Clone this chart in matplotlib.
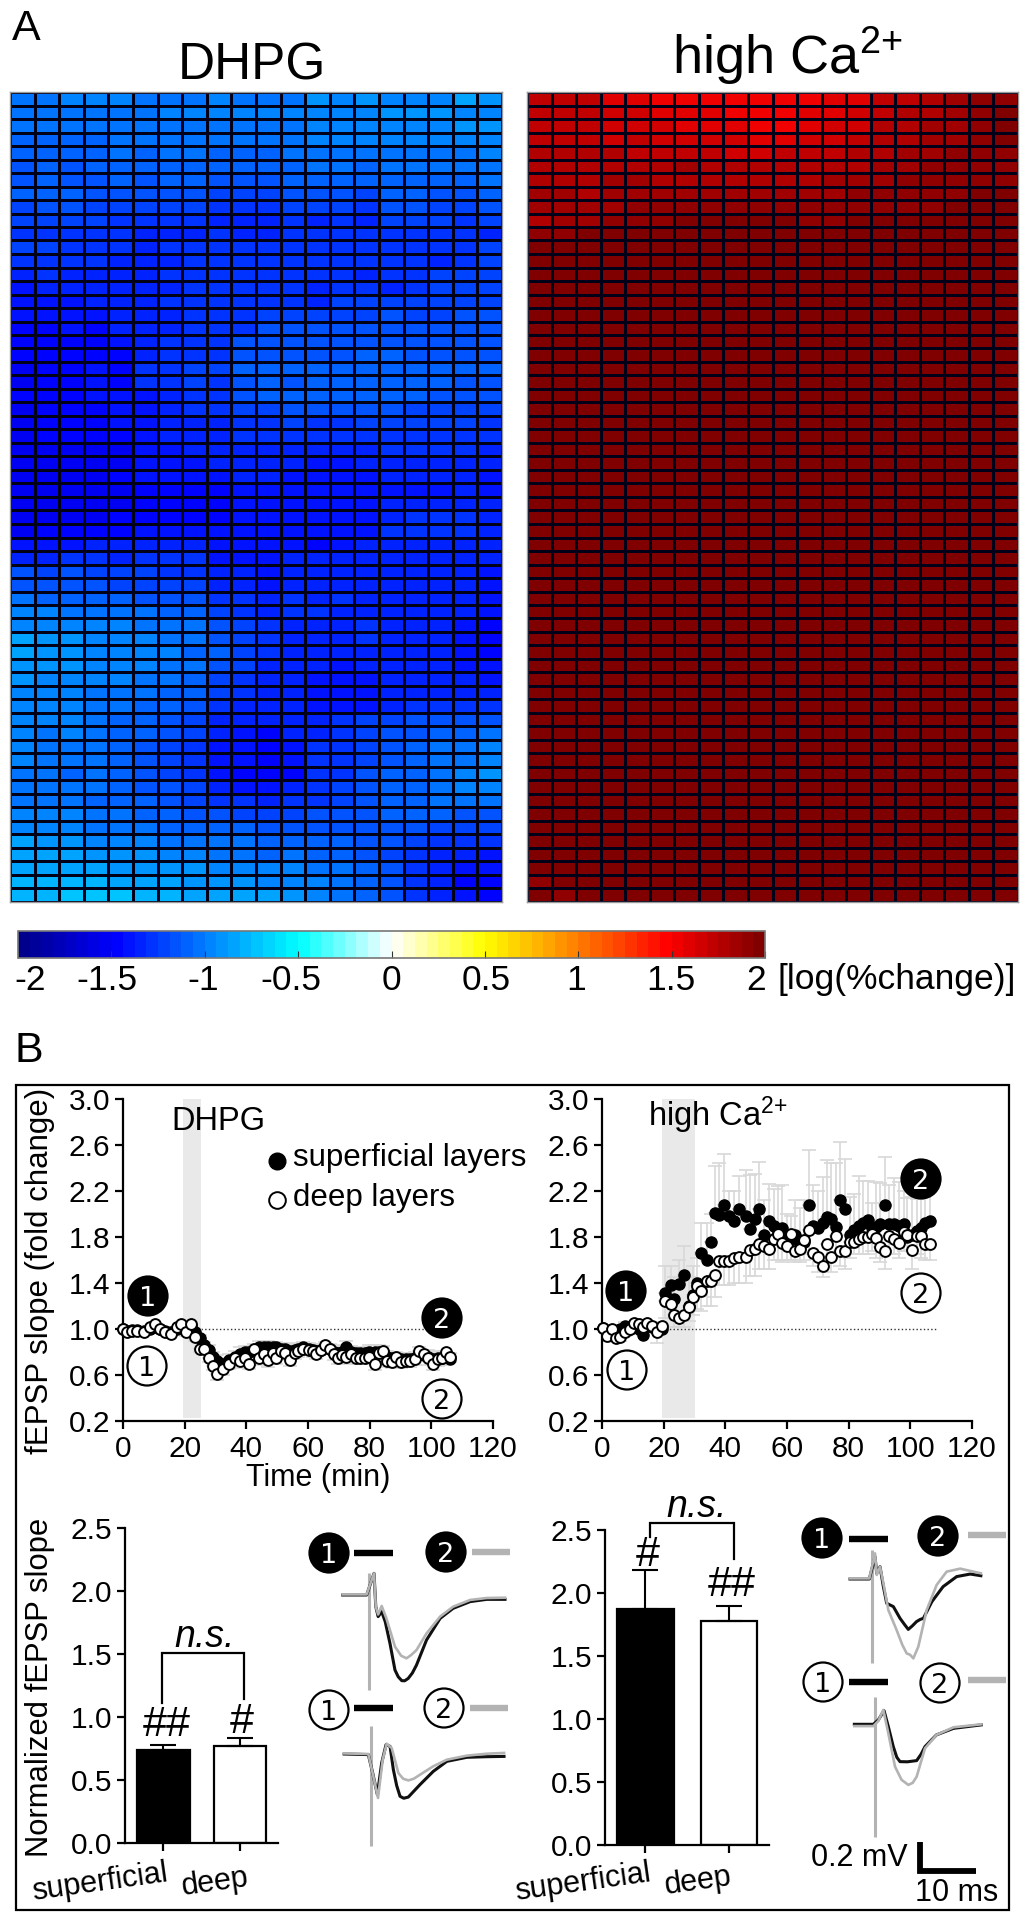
import numpy as np
import matplotlib
matplotlib.use("Agg")
import matplotlib.pyplot as plt
from matplotlib.cm import ScalarMappable
from matplotlib.colors import LinearSegmentedColormap, Normalize
from matplotlib.patches import Circle, Rectangle
from matplotlib.transforms import Affine2D

plt.rcParams["font.family"] = ["Liberation Sans", "DejaVu Sans"]
plt.rcParams["mathtext.fontset"] = "custom"
plt.rcParams["mathtext.rm"] = "Liberation Sans"
plt.rcParams["mathtext.default"] = "regular"

W, H = 1027, 1920

# heatmaps, log(%change) x 100, one row per line (sign is applied below for DHPG)
dhpg_rows = [
    [104, 105, 100, 99, 99, 101, 101, 101, 100, 101, 102, 102, 92, 95, 93, 94, 95, 94, 87, 88],
    [104, 103, 102, 106, 102, 104, 100, 96, 98, 100, 98, 100, 94, 97, 94, 91, 91, 92, 94, 94],
    [106, 103, 105, 105, 102, 106, 103, 102, 106, 104, 104, 106, 98, 98, 96, 94, 96, 96, 93, 92],
    [110, 108, 108, 110, 104, 106, 102, 102, 106, 106, 106, 104, 100, 100, 100, 98, 98, 100, 98, 96],
    [110, 108, 110, 112, 106, 108, 104, 106, 110, 110, 108, 106, 104, 102, 104, 102, 102, 104, 102, 98],
    [114, 110, 114, 108, 108, 112, 108, 110, 112, 112, 112, 108, 106, 106, 108, 104, 104, 106, 106, 102],
    [114, 112, 114, 116, 110, 114, 112, 112, 116, 118, 118, 110, 108, 110, 112, 108, 108, 110, 110, 104],
    [112, 112, 112, 118, 114, 116, 114, 116, 120, 122, 122, 116, 114, 116, 120, 112, 112, 114, 116, 110],
    [120, 118, 118, 122, 120, 122, 122, 124, 128, 130, 130, 120, 120, 122, 126, 118, 118, 122, 122, 116],
    [122, 120, 122, 124, 126, 128, 128, 130, 132, 134, 136, 130, 132, 128, 134, 122, 124, 124, 126, 122],
    [126, 126, 128, 128, 130, 132, 132, 136, 130, 134, 134, 130, 130, 130, 130, 128, 128, 128, 130, 132],
    [124, 124, 128, 128, 130, 132, 130, 128, 126, 128, 128, 128, 128, 126, 128, 126, 128, 130, 128, 122],
    [126, 126, 130, 130, 132, 134, 132, 128, 128, 130, 130, 130, 128, 128, 130, 128, 130, 132, 130, 124],
    [136, 130, 132, 132, 134, 132, 130, 126, 126, 128, 128, 130, 130, 128, 132, 130, 130, 124, 122, 122],
    [140, 136, 132, 134, 136, 136, 134, 128, 126, 128, 128, 130, 132, 130, 130, 132, 126, 122, 120, 122],
    [142, 140, 138, 132, 136, 134, 130, 128, 126, 128, 128, 130, 134, 124, 122, 124, 122, 122, 120, 120],
    [140, 138, 140, 142, 134, 134, 132, 128, 128, 128, 122, 120, 122, 120, 120, 118, 120, 120, 118, 118],
    [150, 144, 142, 144, 134, 134, 132, 126, 128, 128, 118, 118, 118, 118, 116, 116, 116, 116, 116, 116],
    [150, 148, 144, 146, 138, 132, 130, 126, 126, 116, 116, 116, 116, 116, 114, 114, 114, 114, 114, 114],
    [150, 148, 146, 144, 144, 132, 130, 126, 126, 114, 114, 114, 114, 114, 112, 112, 114, 114, 114, 114],
    [154, 150, 150, 140, 146, 130, 128, 120, 124, 112, 110, 112, 110, 110, 108, 108, 110, 110, 112, 112],
    [152, 146, 146, 138, 144, 130, 128, 122, 126, 114, 112, 114, 112, 112, 110, 110, 112, 112, 114, 114],
    [150, 148, 146, 140, 142, 140, 132, 130, 128, 118, 110, 110, 108, 108, 108, 108, 112, 114, 116, 116],
    [152, 150, 148, 146, 142, 138, 132, 130, 130, 124, 120, 118, 118, 118, 116, 116, 120, 120, 122, 124],
    [152, 150, 148, 150, 142, 138, 136, 136, 132, 128, 126, 124, 126, 126, 124, 122, 124, 124, 124, 128],
    [154, 150, 150, 150, 146, 140, 136, 136, 134, 130, 130, 126, 130, 130, 128, 126, 128, 128, 128, 130],
    [156, 152, 152, 154, 154, 140, 138, 136, 136, 132, 132, 134, 136, 136, 136, 130, 130, 130, 130, 134],
    [156, 154, 154, 154, 152, 140, 140, 138, 136, 134, 134, 136, 138, 138, 136, 134, 134, 132, 132, 136],
    [156, 154, 154, 154, 150, 142, 142, 142, 140, 136, 136, 138, 140, 140, 140, 136, 136, 136, 136, 138],
    [156, 154, 154, 154, 152, 146, 146, 146, 144, 140, 140, 140, 142, 142, 142, 138, 138, 138, 136, 138],
    [156, 156, 154, 154, 152, 148, 148, 146, 148, 140, 140, 140, 142, 142, 142, 134, 132, 132, 132, 132],
    [154, 154, 156, 156, 150, 146, 146, 144, 146, 138, 138, 138, 140, 140, 138, 132, 130, 130, 130, 132],
    [152, 150, 148, 146, 146, 140, 142, 142, 142, 138, 138, 138, 140, 140, 138, 130, 130, 130, 130, 132],
    [138, 140, 138, 136, 136, 134, 134, 134, 142, 142, 142, 140, 144, 140, 134, 132, 132, 132, 134, 134],
    [134, 132, 126, 130, 134, 130, 128, 130, 140, 138, 142, 134, 134, 136, 134, 132, 132, 134, 134, 136],
    [116, 120, 116, 122, 124, 124, 128, 128, 136, 136, 138, 132, 134, 136, 136, 132, 134, 134, 136, 138],
    [116, 116, 116, 116, 122, 122, 124, 124, 132, 136, 138, 134, 134, 134, 134, 134, 134, 134, 136, 138],
    [104, 108, 108, 108, 112, 114, 114, 114, 130, 130, 134, 130, 132, 130, 132, 132, 132, 134, 136, 138],
    [100, 100, 102, 102, 106, 106, 110, 108, 124, 130, 134, 130, 130, 132, 132, 134, 134, 136, 136, 140],
    [96, 96, 94, 96, 98, 104, 104, 106, 116, 120, 130, 132, 132, 132, 130, 134, 134, 136, 138, 144],
    [86, 92, 92, 94, 96, 100, 104, 106, 114, 120, 130, 132, 134, 134, 130, 134, 136, 136, 140, 146],
    [86, 90, 92, 94, 96, 100, 100, 108, 112, 120, 130, 132, 134, 136, 134, 136, 136, 136, 140, 144],
    [90, 92, 92, 94, 98, 100, 102, 106, 116, 122, 132, 132, 136, 138, 136, 136, 136, 136, 138, 142],
    [92, 94, 94, 100, 100, 102, 106, 112, 120, 126, 136, 134, 138, 138, 138, 136, 136, 136, 136, 140],
    [94, 94, 98, 102, 102, 104, 108, 112, 124, 128, 134, 136, 140, 140, 138, 136, 134, 132, 132, 134],
    [96, 98, 100, 104, 106, 108, 112, 116, 128, 132, 134, 136, 138, 140, 138, 134, 130, 130, 130, 130],
    [98, 100, 100, 106, 108, 112, 118, 120, 132, 136, 136, 134, 132, 128, 124, 120, 118, 116, 118, 116],
    [98, 102, 100, 106, 110, 112, 116, 124, 132, 138, 144, 136, 134, 130, 124, 118, 114, 112, 110, 106],
    [98, 102, 102, 106, 108, 116, 120, 128, 138, 140, 146, 140, 130, 126, 122, 114, 110, 106, 104, 98],
    [100, 104, 106, 106, 110, 118, 122, 128, 138, 142, 144, 140, 128, 126, 120, 114, 110, 106, 104, 96],
    [102, 104, 108, 106, 112, 118, 120, 126, 142, 148, 148, 148, 130, 126, 118, 112, 108, 104, 98, 92],
    [102, 104, 106, 106, 110, 116, 118, 122, 136, 142, 142, 136, 126, 120, 116, 112, 108, 104, 100, 96],
    [102, 102, 104, 108, 110, 112, 114, 120, 126, 130, 132, 128, 126, 120, 116, 110, 108, 106, 104, 104],
    [98, 96, 98, 104, 106, 108, 110, 114, 118, 120, 122, 120, 118, 118, 114, 110, 112, 112, 114, 116],
    [96, 94, 94, 102, 102, 104, 108, 110, 110, 112, 116, 116, 114, 116, 116, 116, 118, 120, 122, 122],
    [86, 92, 92, 98, 98, 100, 102, 102, 104, 106, 108, 108, 110, 112, 116, 118, 122, 126, 128, 130],
    [84, 84, 86, 90, 92, 92, 94, 98, 104, 106, 108, 106, 108, 110, 114, 120, 126, 132, 136, 138],
    [82, 82, 84, 86, 90, 90, 90, 90, 94, 94, 96, 100, 102, 104, 110, 118, 126, 132, 138, 142],
    [76, 76, 80, 80, 82, 84, 84, 88, 90, 92, 94, 96, 100, 104, 110, 118, 126, 134, 146, 146],
    [76, 76, 74, 74, 74, 80, 80, 84, 84, 86, 86, 92, 98, 104, 110, 118, 128, 134, 142, 150],
]
high_ca_top = [
    [172, 170, 170, 162, 160, 152, 154, 156, 150, 150, 150, 152, 158, 160, 170, 172, 178, 184, 190, 192],
    [174, 174, 170, 166, 166, 160, 162, 158, 154, 154, 150, 158, 162, 164, 174, 176, 180, 184, 190, 194],
    [172, 170, 172, 166, 168, 168, 160, 158, 160, 156, 154, 162, 168, 164, 176, 180, 182, 184, 190, 196],
    [174, 174, 170, 168, 170, 164, 166, 168, 164, 162, 162, 168, 166, 170, 178, 180, 182, 186, 188, 194],
    [176, 176, 176, 176, 170, 170, 172, 174, 168, 168, 170, 174, 172, 178, 180, 184, 186, 188, 188, 192],
    [178, 180, 176, 178, 178, 178, 182, 176, 176, 176, 178, 176, 180, 180, 184, 184, 188, 190, 192, 192],
    [178, 178, 180, 182, 182, 178, 180, 178, 178, 180, 180, 180, 182, 184, 186, 188, 188, 188, 192, 192],
    [184, 184, 180, 182, 184, 182, 184, 184, 184, 184, 186, 186, 186, 188, 188, 188, 190, 192, 194, 194],
    [184, 184, 184, 186, 188, 188, 188, 190, 190, 190, 190, 188, 190, 190, 192, 192, 192, 194, 194, 194],
    [180, 184, 184, 190, 190, 190, 194, 194, 194, 194, 194, 192, 192, 194, 194, 194, 194, 194, 194, 194],
    [192, 192, 194, 194, 194, 195, 195, 196, 196, 196, 196, 196, 196, 196, 196, 196, 196, 196, 196, 196],
    [195, 195, 196, 196, 196, 196, 196, 197, 197, 197, 197, 197, 197, 197, 197, 197, 197, 197, 197, 197],
]
high_ca_flat = [198] * 20
high_ca_bottom = [
    [192, 198, 198, 198, 198, 198, 198, 198, 198, 198, 198, 198, 198, 198, 198, 198, 198, 198, 198, 198],
    [194, 192, 198, 198, 198, 198, 198, 198, 198, 198, 198, 198, 198, 198, 198, 198, 198, 198, 198, 198],
]

cbar_ticks = [-2, -1.5, -1, -0.5, 0, 0.5, 1, 1.5, 2]
cbar_labels = ["-2", "-1.5", "-1", "-0.5", "0", "0.5", "1", "1.5", "2"]

# time courses
dhpg_time = [0, 1.3, 2.9, 4.5, 6.7, 8.6, 10.3, 11.9, 13.5, 15.7,
             17.5, 18.9, 20.3, 21.9, 23.2, 24.9, 26.3, 27.9, 29.2, 30.6,
             32.4, 34.4, 36.2, 37.8, 39.5, 40.9, 42.5, 44.1, 45.7, 47,
             48.6, 49.7, 51.1, 52.6, 54.1, 55.7, 56.8, 58.4, 60.3, 61.6,
             62.7, 64.1, 65.4, 67, 68.3, 69.7, 71.1, 72.4, 74.1, 75.5,
             76.8, 78.4, 79.8, 81.6, 83, 84.3, 85.7, 87.4, 88.6, 90.3,
             91.9, 93.2, 94.6, 95.9, 97.5, 98.9, 100.5, 102.2, 103.6, 104.6, 106.2]
dhpg_deep = [1.0, .97, .98, .98, .97, 1.02, 1.04, 1.0, .97, .96,
             1.02, 1.04, .97, 1.04, .93, .83, .83, .75, .68, .61,
             .65, .70, .75, .72, .75, .70, .83, .75, .78, .73,
             .79, .75, .81, .79, .73, .79, .81, .83, .82, .81,
             .78, .82, .86, .83, .78, .75, .77, .76, .78, .75,
             .75, .75, .76, .70, .79, .81, .72, .71, .76, .71,
             .72, .72, .74, .81, .78, .75, .70, .74, .75, .80, .76]
dhpg_sup = [1.0, .98, .99, .99, .98, 1.0, 1.02, 1.0, .98, .97,
            1.0, 1.02, 1.0, 1.03, .97, .92, .86, .82, .76, .72,
            .70, .73, .76, .78, .80, .80, .82, .84, .84, .84,
            .84, .84, .83, .83, .81, .82, .83, .84, .83, .82,
            .81, .82, .85, .83, .80, .79, .80, .84, .80, .79,
            .79, .79, .80, .80, .80, .80, .76, .75, .75, .74,
            .74, .74, .75, .79, .77, .76, .74, .75, .75, .76, .74]
dhpg_err = [.02, .02, .02, .02, .02, .02, .02, .02, .02, .02,
            .02, .02, .03, .03, .03, .03, .03, .04, .04, .05,
            .05, .05, .05, .06, .05, .05, .05, .06, .06, .06,
            .05, .05, .05, .05, .05, .05, .05, .05, .05, .05,
            .04, .04, .04, .04, .05, .05, .06, .06, .05, .05,
            .05, .05, .06, .06, .06, .05, .05, .05, .05, .05,
            .05, .05, .05, .05, .05, .06, .06, .06, .06, .05, .05]

ca_time = [.3, 1.6, 3.2, 4.6, 5.9, 7.6, 9, 10.5, 11.9, 13.3,
           14.6, 16.2, 17.8, 19.5, 20.5, 22.4, 23.5, 24.9, 26.5, 28.1,
           29.4, 30.8, 32.2, 34.1, 35.5, 36.8, 37.8, 39.5, 41.1, 42.7,
           44.3, 46.8, 47.9, 49.7, 50.8, 52.4, 54.1, 55.7, 57.1, 58.4,
           60, 61.4, 62.7, 64.3, 65.6, 67.2, 68.4, 70.2, 71.6, 73,
           74.4, 76, 77.3, 78.9, 80.3, 81.6, 83.2, 84.6, 86.2, 87.6,
           89, 90.3, 91.9, 93, 94.6, 96.2, 97.8, 98.9, 100.5, 102,
           103.5, 104.9, 106.3]
ca_deep = [1.01, .94, 1.0, .92, .93, .97, 1.0, 1.05, 1.04, 1.02,
           1.05, 1.03, .97, 1.03, 1.24, 1.22, 1.12, 1.10, 1.12, 1.19,
           1.28, 1.37, 1.33, 1.42, 1.42, 1.47, 1.59, 1.59, 1.59, 1.62,
           1.63, 1.63, 1.69, 1.70, 1.74, 1.72, 1.70, 1.78, 1.83, 1.75,
           1.72, 1.83, 1.68, 1.70, 1.77, 1.86, 1.66, 1.63, 1.55, 1.74,
           1.63, 1.81, 1.68, 1.68, 1.76, 1.76, 1.78, 1.80, 1.80, 1.83,
           1.79, 1.71, 1.68, 1.81, 1.78, 1.75, 1.84, 1.82, 1.69, 1.81,
           1.81, 1.74, 1.74]
ca_sup = [1.01, .97, .97, .98, 1.0, 1.03, 1.0, 1.02, 1.0, .95,
          1.03, 1.02, .98, 1.0, 1.31, 1.38, 1.26, 1.39, 1.47, 1.2,
          1.3, 1.40, 1.66, 1.6, 1.76, 2.01, 1.99, 2.08, 1.98, 1.94,
          2.04, 1.98, 1.87, 1.96, 2.04, 1.82, 1.94, 1.9, 1.85, 1.88,
          1.8, 1.78, 1.82, 1.75, 1.76, 2.08, 1.9, 1.88, 1.92, 1.97,
          1.96, 1.89, 2.12, 2.04, 1.82, 1.86, 1.9, 1.92, 1.95, 1.88,
          1.89, 1.91, 2.08, 1.91, 1.91, 1.9, 1.91, 1.8, 1.82, 1.85,
          1.88, 1.92, 1.94]
ca_upper = [1.03, 1.0, 1.0, 1.01, 1.03, 1.06, 1.03, 1.05, 1.03, .98,
            1.06, 1.05, 1.06, 1.04, 1.55, 1.55, 1.45, 1.6, 1.72, 1.45,
            1.55, 1.62, 1.92, 1.92, 2.0, 2.42, 2.44, 2.52, 2.2, 2.2,
            2.33, 2.38, 2.34, 2.35, 2.45, 2.12, 2.26, 2.22, 2.24, 2.25,
            2.0, 1.98, 2.12, 2.05, 2.12, 2.56, 2.25, 2.2, 2.32, 2.47,
            2.44, 2.44, 2.63, 2.48, 2.15, 2.17, 2.33, 2.29, 2.29, 2.1,
            2.28, 2.27, 2.5, 2.25, 2.31, 2.28, 2.2, 2.14, 2.15, 2.13,
            2.15, 2.18, 2.2]
ca_lower = [.98, .9, .97, .89, .9, .94, .98, 1.02, 1.01, .95,
            1.02, 1.0, .88, 1.0, 1.1, 1.1, 1.02, 1.02, 1.02, 1.07,
            1.12, 1.17, 1.16, 1.2, 1.2, 1.28, 1.38, 1.38, 1.38, 1.4,
            1.4, 1.4, 1.46, 1.46, 1.52, 1.52, 1.52, 1.6, 1.6, 1.58,
            1.6, 1.6, 1.58, 1.58, 1.6, 1.65, 1.55, 1.5, 1.45, 1.6,
            1.5, 1.65, 1.55, 1.52, 1.62, 1.65, 1.65, 1.65, 1.65, 1.68,
            1.62, 1.58, 1.52, 1.65, 1.65, 1.62, 1.68, 1.68, 1.52, 1.65,
            1.62, 1.6, 1.6]

# bars
bar_names = ["superficial", "deep"]
dhpg_bars = [0.74, 0.77]
dhpg_bar_err = [0.035, 0.06]
ca_bars = [1.87, 1.78]
ca_bar_err = [0.31, 0.12]

# field potential traces: time (ms), amplitude (mV)
a_black_t = [-4.5, -0.45, 0.8, 1.1, 1.5, 2.1, 2.7, 3.5, 4.35, 4.9, 5.5, 6.0, 6.6, 7.3, 8.0, 9.7, 12, 14.2, 17.1, 19.9, 23]
a_black_v = [0, 0, 0.144, -0.078, -0.144, -0.111, -0.178, -0.322, -0.5, -0.545, -0.571, -0.572, -0.556, -0.52, -0.467, -0.3, -0.156, -0.089, -0.044, -0.029, -0.029]
a_gray_t = [-4.5, -0.45, 0.8, 1.1, 1.5, 2.1, 2.9, 4.35, 5.4, 6.3, 7.1, 8, 9.7, 12, 14.2, 17.1, 19.9, 23]
a_gray_v = [0.004, 0.004, 0.144, -0.078, -0.13, -0.073, -0.156, -0.344, -0.405, -0.422, -0.4, -0.367, -0.256, -0.144, -0.078, -0.033, -0.02, -0.018]
b_black_t = [-4.5, -0.4, 0.34, 1.13, 1.86, 2.6, 3.28, 3.84, 4.4, 4.97, 5.6, 6.38, 8.36, 10.6, 12.9, 16.3, 19.7, 22.6]
b_black_v = [0, -0.004, -0.127, -0.271, -0.06, 0.062, 0.051, -0.104, -0.21, -0.282, -0.295, -0.287, -0.204, -0.116, -0.049, -0.022, -0.018, -0.016]
b_gray_t = [-4.5, -0.4, 0.45, 1.24, 2.03, 2.71, 3.56, 4.69, 5.5, 6.38, 7.3, 8.36, 10.6, 12.9, 16.3, 19.7, 22.6]
b_gray_v = [0.004, 0, -0.149, -0.293, -0.038, 0.069, 0.04, -0.127, -0.165, -0.176, -0.165, -0.138, -0.082, -0.038, -0.011, 0.002, 0.007]
c_black_t = [-3.67, -0.4, 0.56, 0.85, 1.41, 1.98, 2.54, 3.67, 4.8, 5.5, 6.2, 6.9, 7.6, 8.2, 8.76, 10.2, 12.1, 14.4, 16.7, 18.5]
c_black_v = [0, 0, 0.149, 0.038, 0.082, -0.051, -0.162, -0.184, -0.262, -0.3, -0.336, -0.312, -0.284, -0.27, -0.262, -0.151, -0.051, 0.016, 0.033, 0.022]
c_gray_t = [-3.67, -0.4, 0.56, 0.85, 1.41, 1.98, 2.82, 4.24, 5.2, 5.93, 6.5, 7.06, 7.9, 9.32, 11, 12.7, 15, 18.5]
c_gray_v = [0.004, 0.004, 0.171, 0.027, 0.082, -0.029, -0.207, -0.342, -0.44, -0.496, -0.505, -0.529, -0.451, -0.207, -0.04, 0.049, 0.069, 0.038]
d_black_t = [-3.5, -0.28, 0.56, 1.53, 2.26, 3.1, 3.7, 4.24, 5.5, 7.06, 7.8, 8.47, 10.4, 13.3, 18]
d_black_v = [0, 0, 0.029, 0.091, -0.016, -0.149, -0.22, -0.249, -0.25, -0.242, -0.2, -0.149, -0.071, -0.027, -0.004]
d_gray_t = [-3.5, -0.28, 0.56, 1.41, 2.26, 3.39, 4.5, 5.65, 6.4, 7.06, 8.47, 10.4, 13.3, 18]
d_gray_v = [-0.012, -0.012, 0.022, 0.096, -0.06, -0.282, -0.37, -0.404, -0.39, -0.349, -0.16, -0.071, -0.02, 0]

jet_white = LinearSegmentedColormap.from_list(
    "jet_white",
    [(0.0, (0, 0, 0.55)), (0.125, (0, 0, 1)), (0.25, (0, 0.5, 1)), (0.375, (0, 1, 1)),
     (0.5, (1, 1, 1)), (0.625, (1, 1, 0)), (0.75, (1, 0.5, 0)), (0.875, (1, 0, 0)),
     (1.0, (0.5, 0, 0))],
    N=64,
)
norm = Normalize(-2, 2)

fig = plt.figure(figsize=(W / 100, H / 100), dpi=100, facecolor="white")


def px_axes(left, top, right, bottom):
    return fig.add_axes([left / W, 1 - bottom / H, (right - left) / W, (bottom - top) / H])


def heatmap(rect, values):
    ax = px_axes(*rect)
    ax.pcolormesh(np.arange(21), np.arange(61), values, cmap=jet_white, norm=norm,
                  edgecolors="#000018", linewidth=0.75)
    ax.set_ylim(60, 0)
    ax.set_xticks([])
    ax.set_yticks([])
    for s in ax.spines.values():
        s.set_color("#999999")
        s.set_linewidth(1.0)


heatmap((10, 92, 502, 902), -np.array(dhpg_rows) / 100)
high_ca_rows = high_ca_top + [high_ca_flat] * 46 + high_ca_bottom
heatmap((527, 92, 1018, 902), np.array(high_ca_rows) / 100)

cax = px_axes(18, 931, 765, 958)
cb = fig.colorbar(ScalarMappable(norm, jet_white), cax=cax, orientation="horizontal")
cb.set_ticks(cbar_ticks)
cb.ax.tick_params(direction="in", length=5, width=0.8, color="#333333", labelbottom=False)
cb.outline.set_edgecolor("#777777")
cb.outline.set_linewidth(1.2)


def style_axes(ax):
    ax.spines[["top", "right"]].set_visible(False)
    ax.spines[["left", "bottom"]].set_linewidth(1.6)
    ax.tick_params(length=6, width=1.6, labelsize=21.5, pad=3)
    ax.tick_params(axis="x", pad=4)
    ax.patch.set_alpha(0)


def time_axes(rect, span, dot_end):
    ax = px_axes(*rect)
    style_axes(ax)
    ax.set_xlim(0, 120)
    ax.set_ylim(0.2, 3.0)
    ax.set_xticks(range(0, 121, 20))
    ax.set_yticks([0.2, 0.6, 1.0, 1.4, 1.8, 2.2, 2.6, 3.0])
    ax.set_yticklabels(["0.2", "0.6", "1.0", "1.4", "1.8", "2.2", "2.6", "3.0"])
    ax.axvspan(span[0], span[1], ymin=0.01, color="#e9e9e9", lw=0, zorder=0)
    ax.plot([span[1] if dot_end < 105 else span[0], dot_end], [1, 1], ":", color="#333333", lw=1.0, zorder=1)
    return ax


def draw_dots(ax, t, sup, deep, sup_lo, sup_hi, deep_lo, deep_hi):
    ax.errorbar(t, sup, yerr=[sup_lo, sup_hi], fmt="none", ecolor="#d8d8d8", elinewidth=1.2,
                capsize=5, capthick=1.2, zorder=2)
    ax.errorbar(t, deep, yerr=[deep_lo, deep_hi], fmt="none", ecolor="#d8d8d8", elinewidth=1.2,
                capsize=5, capthick=1.2, zorder=2)
    ax.plot(t, sup, "o", ms=8, mfc="black", mec="black", zorder=3, clip_on=False)
    ax.plot(t, deep, "o", ms=7.8, mfc="white", mec="black", mew=1.4, zorder=4, clip_on=False)


ax1 = time_axes((123, 1099, 493, 1421), (19.5, 25.3), 100)
zeros = np.zeros(len(dhpg_time))
draw_dots(ax1, dhpg_time, dhpg_sup, dhpg_deep, zeros, dhpg_err, dhpg_err, zeros)

ax2 = time_axes((602, 1099, 972, 1421), (19.5, 30.2), 108.4)
ca_zero = np.zeros(len(ca_time))
draw_dots(ax2, ca_time, ca_sup, ca_deep, ca_zero, np.array(ca_upper) - np.array(ca_sup),
          np.array(ca_deep) - np.array(ca_lower), ca_zero)


def bar_axes(rect, xlim, values, err, width):
    ax = px_axes(*rect)
    style_axes(ax)
    ax.bar([0, 1], values, width=width, color=["black", "white"], edgecolor="black", linewidth=1.6,
           yerr=[[0, 0], err], ecolor="black", capsize=9.5, error_kw={"elinewidth": 1.5, "capthick": 1.5})
    ax.set_xlim(*xlim)
    ax.set_ylim(0, 2.5)
    ax.set_yticks([0, 0.5, 1, 1.5, 2, 2.5])
    ax.set_yticklabels(["0.0", "0.5", "1.0", "1.5", "2.0", "2.5"])
    ax.set_xticks([0, 1])
    ax.set_xticklabels([])
    return ax


bar_axes((125, 1528, 278, 1843), (-0.503, 1.497), dhpg_bars, dhpg_bar_err, 0.69)
bar_axes((605, 1530, 769, 1845), (-0.485, 1.479), ca_bars, ca_bar_err, 0.68)

# everything else sits on a full-figure overlay in pixel coordinates
ov = fig.add_axes([0, 0, 1, 1], zorder=10)
ov.set_xlim(0, W)
ov.set_ylim(H, 0)
ov.axis("off")


def label(x, y, s, size=22, **kw):
    kw.setdefault("ha", "center")
    kw.setdefault("va", "center")
    ov.text(x, y, s, fontsize=size, color="black", **kw)


label(12, 40, "A", 31, ha="left", va="baseline")
label(14, 1062, "B", 31, ha="left", va="baseline")
label(252, 80, "DHPG", 37, va="baseline")
label(787, 74, "high Ca$^{2{+}}$", 39, va="baseline")

for x, s in zip([30, 107, 203, 291, 391, 486, 576, 671, 756], cbar_labels):
    label(x, 980, s, 25.5)
label(778, 980, "[log(%change)]", 25.5, ha="left")

ov.add_patch(Rectangle((16, 1085), 993, 825, fill=False, ec="black", lw=1.6))

label(40, 1271, "fEPSP slope (fold change)", 22.5, rotation=90)
label(40, 1687, "Normalized fEPSP slope", 22.3, rotation=90)
label(318, 1478, "Time (min)", 22)
label(218, 1122, "DHPG", 23.5)
label(648, 1126, "high Ca$^{2{+}}$", 23.5, ha="left", va="baseline")

ov.plot([277], [1161], "o", ms=12, mfc="black", mec="black")
ov.plot([277], [1200], "o", ms=12, mfc="white", mec="black", mew=1.4)
label(293, 1158, "superficial layers", 22.5, ha="left")
label(293, 1198, "deep layers", 22.5, ha="left")

label(100, 1883, bar_names[0], 22, rotation=8)
label(215, 1882, bar_names[1], 22, rotation=8)
label(583, 1883, bar_names[0], 22, rotation=8)
label(698, 1881, bar_names[1], 22, rotation=8)


def bracket(x0, x1, top, end0, end1):
    ov.plot([x0, x0, x1, x1], [end0, top, top, end1], color="black", lw=1.6, solid_joinstyle="miter")


bracket(162, 244, 1653, 1703, 1699)
bracket(650, 734, 1523, 1537, 1559)
label(205, 1637, "n.s.", 27, style="italic")
label(697, 1507, "n.s.", 27, style="italic")
label(167, 1725, "##", 31)
label(242, 1722, "#", 31)
label(648, 1555, "#", 31)
label(732, 1585, "##", 31)


def badge(x, y, s, filled):
    ov.add_patch(Circle((x, y), 19.5, fc="black" if filled else "white", ec="black", lw=1.6, zorder=6))
    ov.text(x, y, s, fontsize=19.5, family="DejaVu Sans", ha="center", va="center_baseline",
            color="white" if filled else "black", zorder=7)


for x, y, s, f in [(148, 1296, "1", True), (442, 1318, "2", True), (147, 1366, "1", False), (442, 1399, "2", False),
                   (626, 1291, "1", True), (921, 1179, "2", True), (627, 1370, "1", False), (921, 1293, "2", False),
                   (329, 1553, "1", True), (446, 1552, "2", True), (329, 1710, "1", False), (444, 1708, "2", False),
                   (822, 1538, "1", True), (938, 1536, "2", True), (823, 1682, "1", False), (940, 1683, "2", False)]:
    badge(x, y, s, f)

for x0, x1, y, c in [(354, 393, 1553, "black"), (472, 510, 1552, "#b3b3b3"),
                     (354, 393, 1708, "black"), (470, 508, 1708, "#b3b3b3"),
                     (849, 888, 1539, "black"), (968, 1006, 1535, "#b3b3b3"),
                     (849, 888, 1682, "black"), (968, 1006, 1680, "#b3b3b3")]:
    ov.plot([x0, x1], [y, y], color=c, lw=4.6, solid_capstyle="butt")


def trace(x0, y0, black_t, black_v, gray_t, gray_v, art_hi, art_lo):
    # 10 ms = 59 px, 0.2 mV = 30 px
    tr = Affine2D().scale(5.9, -150).translate(x0, y0) + ov.transData
    ov.plot([0, 0], [art_hi, art_lo], color="#b3b3b3", lw=2.2, transform=tr, solid_capstyle="butt")
    ov.plot(black_t, black_v, color="#101010", lw=2.2, transform=tr)
    ov.plot(gray_t, gray_v, color="#b3b3b3", lw=1.9, transform=tr)


trace(369.3, 1595, a_black_t, a_black_v, a_gray_t, a_gray_v, 0.144, -0.633)
trace(370.7, 1754, b_black_t, b_black_v, b_gray_t, b_gray_v, 0.184, -0.616)
trace(871.7, 1579, c_black_t, c_black_v, c_gray_t, c_gray_v, 0.193, -0.562)
trace(875, 1724.3, d_black_t, d_black_v, d_gray_t, d_gray_v, 0.18, -0.749)

ov.plot([920.3, 920.3, 976], [1842, 1870.5, 1870.5], color="black", lw=4.2, solid_joinstyle="miter", solid_capstyle="butt")
label(908, 1858, "0.2 mV", 22, ha="right")
label(957, 1893, "10 ms", 22)

ov.set_xlim(0, W)
ov.set_ylim(H, 0)

fig.savefig("out.png", dpi=100)
